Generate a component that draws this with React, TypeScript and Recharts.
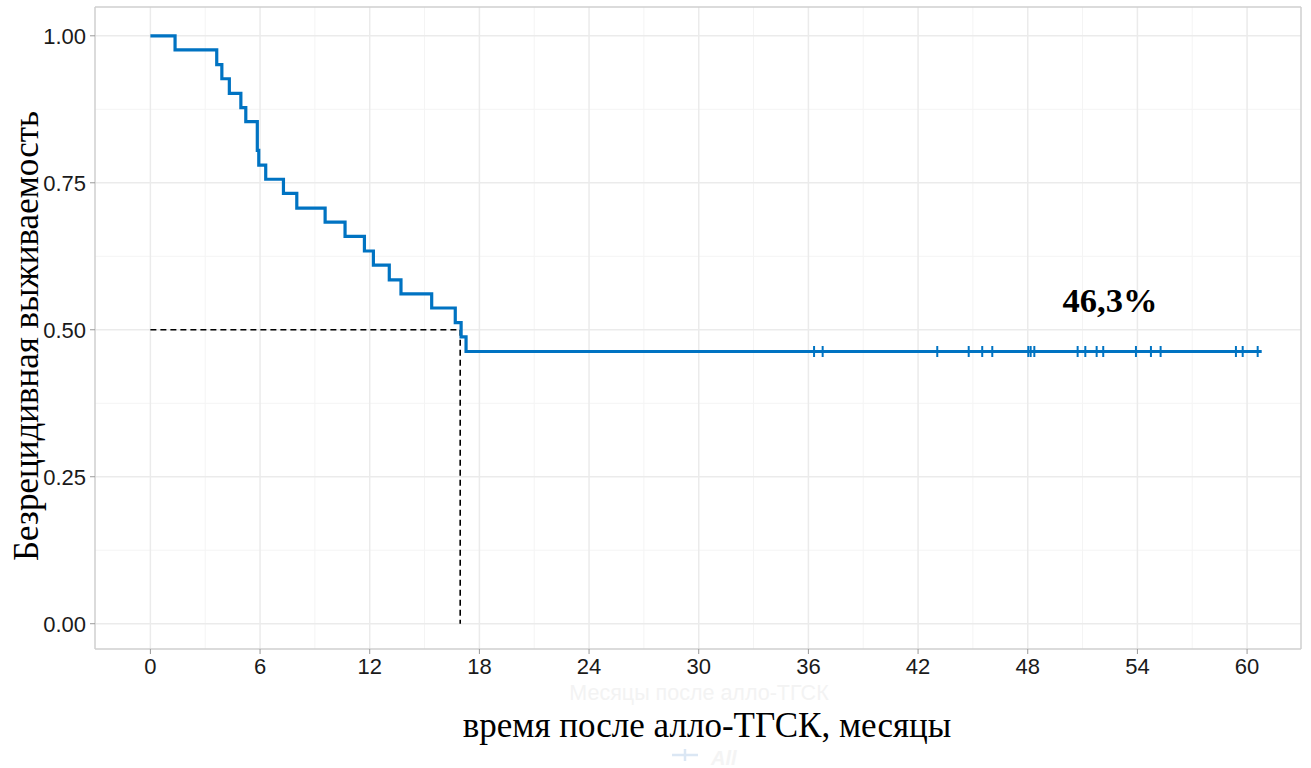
import React from 'react';
import {
  ComposedChart,
  Line,
  Scatter,
  XAxis,
  YAxis,
  CartesianGrid,
  ReferenceLine,
  ReferenceDot,
  Customized,
} from 'recharts';

// Kaplan-Meier step points: time (months) and survival
const eventTimes = [
  0, 1.35, 3.63, 3.91, 4.32, 4.95, 5.22, 5.85, 5.93, 6.31, 7.28, 8.01, 9.56, 10.65, 11.71,
  12.2, 13.07, 13.71, 15.39, 16.68, 17.0, 17.27, 60.8,
];
const survival = [
  1.0, 0.976, 0.951, 0.927, 0.902, 0.878, 0.854, 0.805, 0.78, 0.756, 0.732, 0.707, 0.683,
  0.659, 0.634, 0.61, 0.585, 0.561, 0.537, 0.512, 0.488, 0.463, 0.463,
];

// censored patients (all on the plateau)
const censorTimes = [
  36.31, 36.78, 43.05, 44.77, 45.51, 46.06, 48.03, 48.16, 48.36, 50.73, 51.15, 51.77, 52.13,
  53.92, 54.74, 55.27, 59.39, 59.76, 60.58,
];
const plateau = 0.463;

const medianTime = 16.95;
const medianSurv = 0.5;
const plateauLabel = '46,3%';

const xTicks = [0, 6, 12, 18, 24, 30, 36, 42, 48, 54, 60];
const xMinor = [3, 9, 15, 21, 27, 33, 39, 45, 51, 57];
const yTicks = [0, 0.25, 0.5, 0.75, 1];
const yMinor = [0.125, 0.375, 0.625, 0.875];
const xDomain: [number, number] = [-3.03, 62.95];
const yDomain: [number, number] = [-0.043, 1.049];

const curveData = eventTimes.map((t, i) => ({ t, s: survival[i] }));
const censorData = censorTimes.map((t) => ({ t, s: plateau }));

const BLUE = '#0073C2';
const SERIF = '"Liberation Serif", "Times New Roman", serif';
const SANS = '"Liberation Sans", Arial, sans-serif';

// vertical tick for censored observations
const CensorMark = (props: any) => {
  const { cx, cy } = props;
  if (cx == null || cy == null) return null;
  return <line x1={cx} x2={cx} y1={cy - 5.5} y2={cy + 5.5} stroke={BLUE} strokeWidth={2} />;
};

// axis titles plus the faint leftovers of the original plot
const Titles = () => (
  <g>
    <text x={699} y={700} textAnchor="middle" fontFamily={SANS} fontSize={21.5} fill="#f3f3f3">
      Месяцы после алло-ТГСК
    </text>
    <text x={707} y={737} textAnchor="middle" fontFamily={SERIF} fontSize={35} fill="#000">
      время после алло-ТГСК, месяцы
    </text>
    <text
      x={38}
      y={336}
      textAnchor="middle"
      fontFamily={SERIF}
      fontSize={35}
      fill="#000"
      transform="rotate(-90 38 336)"
    >
      Безрецидивная выживаемость
    </text>
    <line x1={672} x2={698} y1={755} y2={755} stroke="#dbe7f4" strokeWidth={2.5} />
    <line x1={685} x2={685} y1={749} y2={761} stroke="#dbe7f4" strokeWidth={2.5} />
    <text x={711} y={765} fontFamily={SANS} fontSize={20} fontStyle="italic" fontWeight="bold" fill="#f4f4f4">
      All
    </text>
  </g>
);

export default function App() {
  return (
    <div style={{ position: 'absolute', left: 0, top: 0, background: '#fff' }}>
      <ComposedChart width={1311} height={768} margin={{ top: 7, right: 10, left: 0, bottom: 0 }}>
        <CartesianGrid verticalValues={xMinor} horizontalValues={yMinor} stroke="#f4f4f4" strokeWidth={1} />
        <CartesianGrid verticalValues={xTicks} horizontalValues={yTicks} stroke="#ebebeb" strokeWidth={1.5} />
        <CartesianGrid verticalValues={xDomain} horizontalValues={yDomain} stroke="#cfcfcf" strokeWidth={1.5} />
        <XAxis
          type="number"
          dataKey="t"
          domain={xDomain}
          ticks={xTicks}
          allowDataOverflow
          height={119}
          axisLine={false}
          tickLine={{ stroke: '#999' }}
          tickSize={5}
          tickMargin={4}
          tick={{ fontSize: 22, fill: '#1a1a1a', fontFamily: SANS }}
          interval={0}
        />
        <YAxis
          type="number"
          dataKey="s"
          domain={yDomain}
          ticks={yTicks}
          allowDataOverflow
          width={95}
          axisLine={false}
          tickLine={{ stroke: '#999' }}
          tickSize={5}
          tickMargin={4}
          tickFormatter={(v: number) => v.toFixed(2)}
          tick={{ fontSize: 22, fill: '#1a1a1a', fontFamily: SANS }}
          interval={0}
        />
        <ReferenceLine
          segment={[{ x: 0, y: medianSurv }, { x: medianTime, y: medianSurv }]}
          stroke="#000"
          strokeWidth={1.6}
          strokeDasharray="6 4"
        />
        <ReferenceLine
          segment={[{ x: medianTime, y: medianSurv }, { x: medianTime, y: 0 }]}
          stroke="#000"
          strokeWidth={1.6}
          strokeDasharray="6 4"
        />
        <Line
          data={curveData}
          dataKey="s"
          type="stepAfter"
          stroke={BLUE}
          strokeWidth={3.2}
          dot={false}
          activeDot={false}
          isAnimationActive={false}
        />
        <Scatter data={censorData} dataKey="s" shape={<CensorMark />} isAnimationActive={false} />
        <ReferenceDot
          x={52.5}
          y={0.551}
          r={0}
          fill="none"
          stroke="none"
          label={{
            value: plateauLabel,
            position: 'center',
            fontFamily: SERIF,
            fontWeight: 'bold',
            fontSize: 34.5,
            fill: '#000',
          }}
        />
        <Customized component={Titles} />
      </ComposedChart>
    </div>
  );
}
